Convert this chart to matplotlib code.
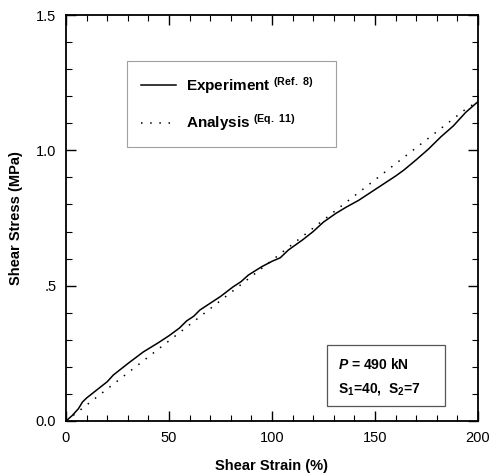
import matplotlib
matplotlib.use('Agg')
import matplotlib.pyplot as plt
from matplotlib.patches import Rectangle
import numpy as np

plt.rcParams['font.family'] = ['Liberation Sans', 'DejaVu Sans']
plt.rcParams['mathtext.fontset'] = 'custom'
plt.rcParams['mathtext.rm'] = 'Liberation Sans:bold'
plt.rcParams['mathtext.bf'] = 'Liberation Sans:bold'
plt.rcParams['mathtext.it'] = 'Liberation Sans:italic:bold'

# experiment (Ref. 8)
exp_strain = [0, 3, 6, 8, 10, 15, 20, 23, 30, 37.5, 45, 50, 55, 58.6, 62, 65, 70, 75,
              81, 85, 88.5, 95, 100, 104, 108, 115, 120, 125, 131, 136, 142, 148,
              155, 160, 164, 170, 176, 182, 188, 194, 200]
exp_stress = [0, 0.02, 0.045, 0.07, 0.085, 0.115, 0.145, 0.17, 0.212, 0.255, 0.29, 0.315,
              0.343, 0.37, 0.387, 0.41, 0.435, 0.46, 0.495, 0.515, 0.539, 0.57, 0.59, 0.603,
              0.632, 0.67, 0.70, 0.735, 0.767, 0.79, 0.815, 0.845, 0.88, 0.905, 0.927,
              0.965, 1.005, 1.05, 1.09, 1.14, 1.18]

# analysis (Eq. 11)
ana_strain = [0, 6.8, 67.5, 130.6, 194.5, 200]
ana_stress = [0, 0.04, 0.40, 0.776, 1.155, 1.18]

xticks = [0, 50, 100, 150, 200]
yticks = [0.0, 0.5, 1.0, 1.5]
ytick_labels = ['0.0', '.5', '1.0', '1.5']

fig = plt.figure(figsize=(4.91, 4.75), dpi=100)
ax = fig.add_axes([0.1344, 0.1137, 0.8391, 0.8547])

l1, = ax.plot(exp_strain, exp_stress, color='black', lw=1.1)
l2, = ax.plot(ana_strain, ana_stress, color='black', lw=1.1, linestyle=(0, (1, 5)))

ax.set_xlim(0, 200)
ax.set_ylim(0, 1.5)
ax.set_xticks(xticks)
ax.set_xticks(np.arange(0, 201, 10), minor=True)
ax.set_yticks(yticks)
ax.set_yticklabels(ytick_labels)
ax.set_yticks(np.arange(0, 1.51, 0.1), minor=True)
ax.tick_params(which='both', direction='in', top=True, right=True, labelsize=10.5, pad=7)
ax.tick_params(which='major', length=7, width=1.0)
ax.tick_params(which='minor', length=4, width=0.8)
for s in ax.spines.values():
    s.set_linewidth(1.3)

ax.set_xlabel('Shear Strain (%)', fontsize=10.5, fontweight='bold', labelpad=10)
ax.set_ylabel('Shear Stress (MPa)', fontsize=10.5, fontweight='bold', labelpad=9)

leg = ax.legend([l1, l2],
                [r'Experiment $^{\mathrm{(Ref.\ 8)}}$', r'Analysis $^{\mathrm{(Eq.\ 11)}}$'],
                loc='upper left', bbox_to_anchor=(0.148, 0.68, 0.507, 0.207),
                mode='expand', borderaxespad=0, fontsize=11, frameon=True, fancybox=False,
                handlelength=2.3, handletextpad=0.65, labelspacing=1.1, borderpad=0.9)
for t in leg.get_texts():
    t.set_fontweight('bold')
leg.get_frame().set_edgecolor('#888888')
leg.get_frame().set_linewidth(0.8)

ax.add_patch(Rectangle((0.633, 0.037), 0.287, 0.15, transform=ax.transAxes,
                       fill=False, edgecolor='#555555', lw=0.9))
ax.text(0.66, 0.14, r'$P$ = 490 kN', transform=ax.transAxes, fontsize=10,
        fontweight='bold', va='center')
ax.text(0.66, 0.078, r'S$_1$=40,  S$_2$=7', transform=ax.transAxes, fontsize=10,
        fontweight='bold', va='center')

fig.savefig('out.png', dpi=100)
